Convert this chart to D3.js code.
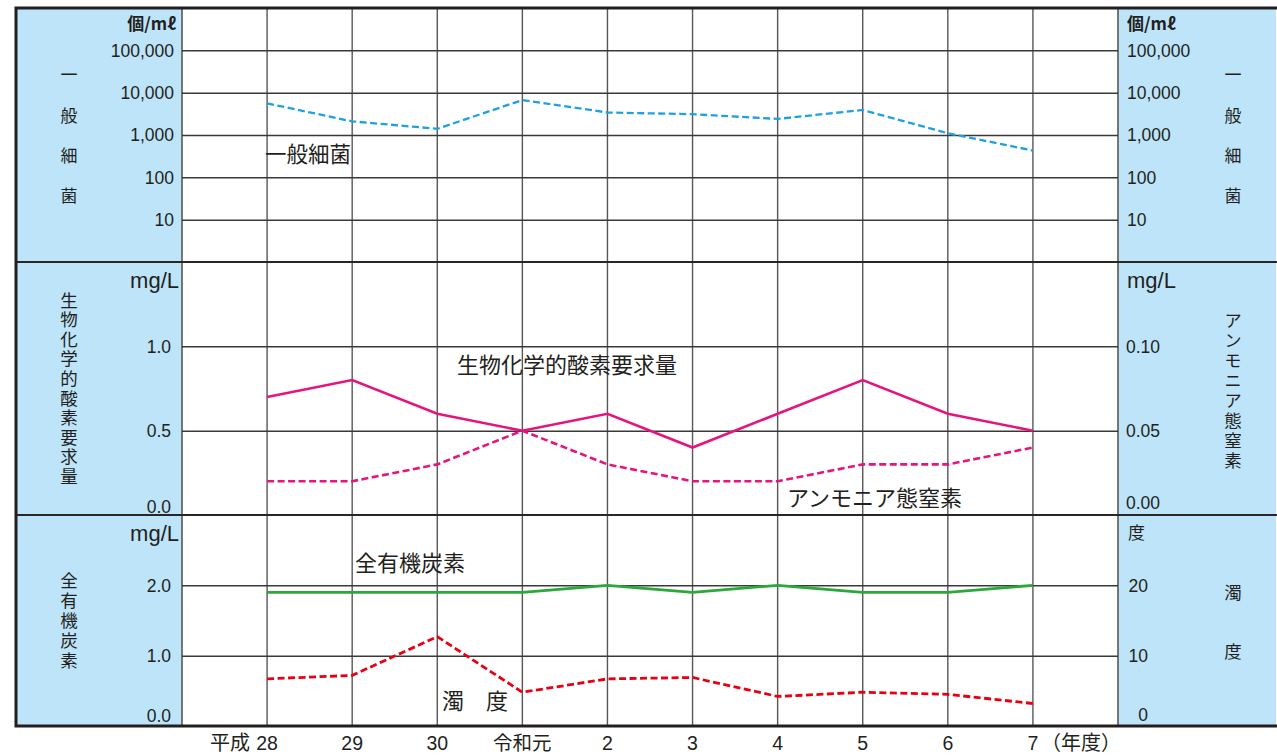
<!DOCTYPE html>
<html><head><meta charset="utf-8">
<script src="https://cdn.jsdelivr.net/npm/d3@7"></script>
<style>
html,body{margin:0;padding:0;background:#fff;}
svg{display:block;}
text{font-family:"Liberation Sans","Noto Sans CJK JP",sans-serif;fill:#231f20;}
.jp{font-family:"Noto Sans CJK JP",sans-serif;}
</style></head>
<body>
<svg id="c" width="1277" height="755"></svg>
<script>
// ---- data ----
const xLabels = ["28","29","30","令和元","2","3","4","5","6","7"];
const eraPrefix = "平成";
const yearUnit = "（年度）";
const bacteria = [5600, 2100, 1400, 6700, 3400, 3100, 2400, 3900, 1100, 430];
const bod = [0.7, 0.8, 0.6, 0.5, 0.6, 0.4, 0.6, 0.8, 0.6, 0.5];
const ammonia = [0.02, 0.02, 0.03, 0.05, 0.03, 0.02, 0.02, 0.03, 0.03, 0.04];
const toc = [1.9, 1.9, 1.9, 1.9, 2.0, 1.9, 2.0, 1.9, 1.9, 2.0];
const turbidity = [6.7, 7.2, 12.7, 4.8, 6.7, 6.9, 4.2, 4.8, 4.5, 3.2];
const bacteriaTicks = [10, 100, 1000, 10000, 100000];
const bodTicks = [0.0, 0.5, 1.0];
const ammoniaTicks = [0.00, 0.05, 0.10];
const tocTicks = [0.0, 1.0, 2.0];
const turbTicks = [0, 10, 20];

// ---- layout ----
const svg = d3.select("#c");
const L = 16, PL = 182, PR = 1118, R = 1276;
const T = 8, B = 726, D1 = 262, D2 = 515;
const blue = "#bde4f8", grid = "#3b3838";

const x = d3.scaleLinear().domain([-1, 10]).range([PL, PR]);
const yBac = d3.scaleLog().domain([1, 1e6]).range([D1, T]);
const yBod = d3.scaleLinear().domain([0, 1.5]).range([D2, D1]);
const yAmm = d3.scaleLinear().domain([0, 0.15]).range([D2, D1]);
const yToc = d3.scaleLinear().domain([0, 3]).range([B, D2]);
const yTur = d3.scaleLinear().domain([0, 30]).range([B, D2]);

// backgrounds
svg.append("rect").attr("x", L).attr("y", T).attr("width", PL - L).attr("height", B - T).attr("fill", blue);
svg.append("rect").attr("x", PR).attr("y", T).attr("width", R - PR).attr("height", B - T).attr("fill", blue);

// vertical grid
const vg = svg.append("g");
d3.range(0, 10).forEach(i => {
  vg.append("line").attr("x1", x(i)).attr("x2", x(i)).attr("y1", T).attr("y2", B)
    .attr("stroke", "#595656").attr("stroke-width", 1.4);
});
[PL, PR].forEach(px => vg.append("line").attr("x1", px).attr("x2", px).attr("y1", T).attr("y2", B)
  .attr("stroke", "#595656").attr("stroke-width", 1.6));

// horizontal grid via axes
function hgrid(scale, ticks) {
  const g = svg.append("g").attr("transform", `translate(${PL},0)`)
    .call(d3.axisRight(scale).tickValues(ticks).tickSize(PR - PL).tickFormat(""));
  g.select(".domain").remove();
  g.selectAll("line").attr("stroke", grid).attr("stroke-width", 1.5);
}
hgrid(yBac, bacteriaTicks);
hgrid(yBod, [0.5, 1.0]);
hgrid(yToc, [1.0, 2.0]);

// frame & dividers
svg.append("line").attr("x1", L).attr("x2", R + 1).attr("y1", D1).attr("y2", D1).attr("stroke", "#2a2626").attr("stroke-width", 2);
svg.append("line").attr("x1", L).attr("x2", R + 1).attr("y1", D2).attr("y2", D2).attr("stroke", "#2a2626").attr("stroke-width", 2);
svg.append("rect").attr("x", L).attr("y", T).attr("width", R - L + 4).attr("height", B - T)
  .attr("fill", "none").attr("stroke", "#231f20").attr("stroke-width", 3);

// tick labels
function labels(scale, ticks, fmt, xPos, anchor, shiftZero) {
  ticks.forEach(t => {
    let yy = scale(t);
    if (shiftZero && t === 0) yy -= shiftZero;
    svg.append("text").attr("x", xPos).attr("y", yy).attr("dy", "0.36em")
      .attr("text-anchor", anchor).attr("font-size", 17.5).attr("fill", "#3a3636").text(fmt(t));
  });
}
labels(yBac, bacteriaTicks, d3.format(","), 174, "end");
labels(yBac, bacteriaTicks, d3.format(","), 1127, "start");
labels(yBod, bodTicks, d3.format(".1f"), 171, "end", 8);
labels(yAmm, ammoniaTicks, d3.format(".2f"), 1126, "start", 12);
labels(yToc, tocTicks, d3.format(".1f"), 171, "end", 10);
labels(yTur, turbTicks, d3.format("d"), 1148, "end", 11);

// units
function txt(t, xx, yy, size, anchor, cls, weight) {
  return svg.append("text").attr("x", xx).attr("y", yy).attr("dy", "0.36em").attr("font-size", size)
    .attr("text-anchor", anchor || "start").attr("class", cls || null).attr("font-weight", weight || null).text(t);
}
txt("個/mℓ", 176, 24, 17, "end", "jp", "bold");
txt("個/mℓ", 1127, 24, 17, "start", "jp", "bold");
txt("mg/L", 179, 280, 22, "end");
txt("mg/L", 1127, 280, 22, "start");
txt("mg/L", 179, 533, 22, "end");
txt("度", 1128, 533, 17, "start", "jp");

// vertical titles (single vertical text per title)
function vtitle(str, xx, y0, step, size) {
  svg.append("text").attr("class", "jp")
    .attr("x", xx).attr("y", y0 - size / 2)
    .attr("font-size", size)
    .style("writing-mode", "vertical-rl")
    .style("text-orientation", "upright")
    .style("letter-spacing", (step - size) + "px")
    .text(str);
}
vtitle("一般細菌", 69, 75, 40.3, 17);
vtitle("一般細菌", 1233, 75, 40.3, 17);
vtitle("生物化学的酸素要求量", 69, 300, 19.6, 17.5);
vtitle("アンモニア態窒素", 1233, 320, 20, 17.5);
vtitle("全有機炭素", 69, 580, 20, 17.5);
vtitle("濁度", 1233, 592, 59, 17.5);

// series
const idx = d3.range(xLabels.length);
function series(vals, ys, color, width, dash) {
  const line = d3.line().x((d, i) => x(i)).y(d => ys(d));
  svg.append("path").datum(vals).attr("d", line).attr("fill", "none")
    .attr("stroke", color).attr("stroke-width", width).attr("stroke-dasharray", dash || null);
}
series(bacteria, yBac, "#1da1e2", 2.3, "7,3.5");
series(bod, yBod, "#e4157f", 2.6);
series(ammonia, yAmm, "#e4157f", 2.6, "7,3.5");
series(toc, yToc, "#2aa83a", 2.8);
series(turbidity, yTur, "#e60012", 2.8, "7,3.5");

// in-plot labels
txt("一般細菌", 265, 154, 21.5, "start", "jp");
txt("生物化学的酸素要求量", 457, 365, 22, "start", "jp");
txt("アンモニア態窒素", 787, 498, 22, "start", "jp");
txt("全有機炭素", 355, 563, 22, "start", "jp");
txt("濁　度", 442, 701, 22, "start", "jp");

// x labels
idx.forEach(i => {
  txt(xLabels[i], x(i), 743, 19.5, "middle", /[^0-9]/.test(xLabels[i]) ? "jp" : null);
});
txt(eraPrefix, x(0) - 17, 743, 20, "end", "jp");
txt(yearUnit, x(9) + 8, 743, 20, "start", "jp");
</script>
</body></html>
